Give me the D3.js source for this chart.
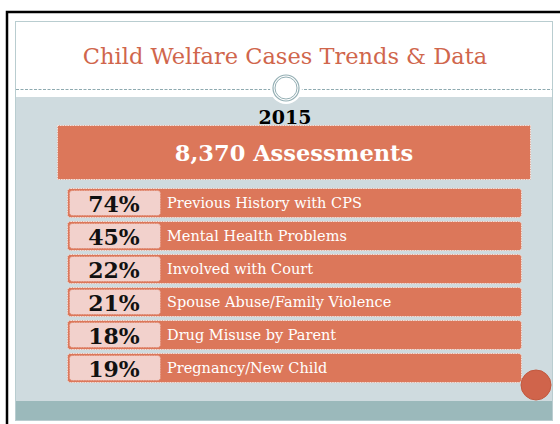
<!DOCTYPE html>
<html>
<head>
<meta charset="utf-8">
<script src="https://cdn.jsdelivr.net/npm/d3@7"></script>
<style>
  body { margin: 0; background: #fff; }
  svg { display: block; }
</style>
</head>
<body>
<div id="chart-container"></div>
<script>
// chart data
const title = "Child Welfare Cases Trends & Data";
const year = "2015";
const assessments = 8370;
const categories = [
  "Previous History with CPS",
  "Mental Health Problems",
  "Involved with Court",
  "Spouse Abuse/Family Violence",
  "Drug Misuse by Parent",
  "Pregnancy/New Child"
];
const percents = [74, 45, 22, 21, 18, 19];

const w = 560, h = 424;
const serif = "Georgia, 'DejaVu Serif', serif";
const orange = "#dc775a";

const rows = categories.map((c, i) => ({ label: c, pct: percents[i] }));

const svg = d3.select('#chart-container')
  .append('svg')
  .attr('width', w)
  .attr('height', h);

// outer black frame
svg.append('path')
  .attr('d', `M7,${h + 5} V12 H${w + 5}`)
  .attr('fill', 'none')
  .attr('stroke', '#000')
  .attr('stroke-width', 2.5);

// slide
svg.append('rect')
  .attr('x', 15.5).attr('y', 21.5)
  .attr('width', 537).attr('height', 399)
  .attr('fill', '#fff')
  .attr('stroke', '#b9cdd0');

svg.append('rect')
  .attr('x', 16).attr('y', 97)
  .attr('width', 536).attr('height', 304)
  .attr('fill', '#cfdbdf');

svg.append('rect')
  .attr('x', 16).attr('y', 401)
  .attr('width', 536).attr('height', 19)
  .attr('fill', '#9bb9bb');

svg.append('line')
  .attr('x1', 16).attr('x2', 552)
  .attr('y1', 89.5).attr('y2', 89.5)
  .attr('stroke', '#8eaab0')
  .attr('stroke-dasharray', '3,1.5');

// title
svg.append('text')
  .attr('x', 285).attr('y', 64)
  .attr('text-anchor', 'middle')
  .attr('font-family', serif)
  .attr('font-size', 22.5)
  .attr('fill', '#d0664c')
  .text(title);

// ring ornament
const ring = svg.append('g').attr('transform', 'translate(286,88)');
ring.append('circle').attr('r', 16).attr('fill', '#fff');
ring.append('circle').attr('r', 13).attr('fill', 'none').attr('stroke', '#94afb4').attr('stroke-width', 1.2);
ring.append('circle').attr('r', 11).attr('fill', 'none').attr('stroke', '#94afb4').attr('stroke-width', 1);

// year
svg.append('text')
  .attr('x', 285).attr('y', 124)
  .attr('text-anchor', 'middle')
  .attr('font-family', serif)
  .attr('font-weight', 'bold')
  .attr('font-size', 19)
  .attr('fill', '#000')
  .text(year);

// total box
svg.append('rect')
  .attr('x', 57.5).attr('y', 125.5)
  .attr('width', 473).attr('height', 54)
  .attr('fill', orange)
  .attr('stroke', '#f4e2dc')
  .attr('stroke-dasharray', '1.5,1');

svg.append('text')
  .attr('x', 294).attr('y', 161)
  .attr('text-anchor', 'middle')
  .attr('font-family', serif)
  .attr('font-weight', 'bold')
  .attr('font-size', 22.5)
  .attr('fill', '#fff')
  .text(d3.format(',')(assessments) + ' Assessments');

// rows
const yScale = d3.scaleBand()
  .domain(categories)
  .range([188, 382])
  .paddingInner(0.12);

const row = svg.selectAll('g.row')
  .data(rows)
  .enter()
  .append('g')
  .attr('class', 'row')
  .attr('transform', d => `translate(0, ${yScale(d.label)})`);

row.append('rect')
  .attr('x', 67.5).attr('y', 0.5)
  .attr('width', 454).attr('height', yScale.bandwidth())
  .attr('rx', 3)
  .attr('fill', orange)
  .attr('stroke', '#f4e2dc')
  .attr('stroke-dasharray', '1.5,1');

row.append('rect')
  .attr('x', 69.5).attr('y', 2.5)
  .attr('width', 91).attr('height', yScale.bandwidth() - 4)
  .attr('rx', 3)
  .attr('fill', '#f2d1cc')
  .attr('stroke', '#e08a72')
  .attr('stroke-dasharray', '1.5,1');

row.append('text')
  .attr('x', 114)
  .attr('y', yScale.bandwidth() - 5)
  .attr('text-anchor', 'middle')
  .attr('font-family', serif)
  .attr('font-weight', 'bold')
  .attr('font-size', 22)
  .attr('fill', '#111')
  .text(d => d.pct + '%');

row.append('text')
  .attr('x', 167)
  .attr('y', yScale.bandwidth() - 9)
  .attr('font-family', serif)
  .attr('font-size', 14.5)
  .attr('fill', '#fff')
  .text(d => d.label);

// corner dot
svg.append('circle')
  .attr('cx', 536).attr('cy', 385)
  .attr('r', 15)
  .attr('fill', '#d0644b')
  .attr('stroke', '#c2593f');
</script>
</body>
</html>
